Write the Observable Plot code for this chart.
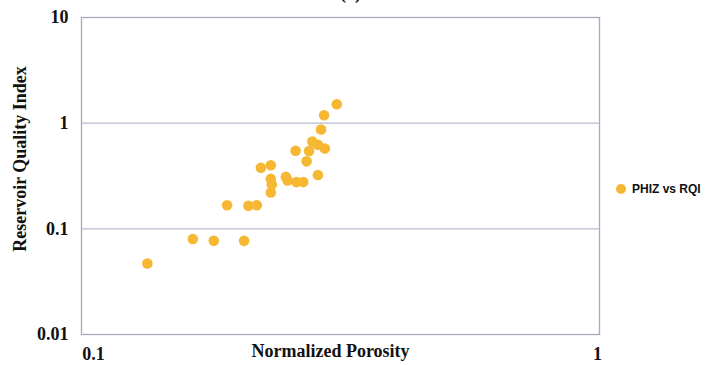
<!DOCTYPE html>
<html>
<head>
<meta charset="utf-8">
<script src="https://cdn.jsdelivr.net/npm/d3@7"></script>
<script src="https://cdn.jsdelivr.net/npm/@observablehq/plot@0.6"></script>
<style>
  body { margin: 0; background: #fff; }
  #wrap { position: relative; width: 705px; height: 365px; }
  #legend { position: absolute; left: 616px; top: 182px; font: bold 12px "Liberation Sans", Arial, sans-serif; color: #111; display: flex; align-items: center; }
  #legend .dot { width: 10px; height: 10px; border-radius: 50%; background: #F6B732; margin-right: 6px; }
</style>
</head>
<body>
<div id="wrap"><div id="legend"><span class="dot"></span><span>PHIZ vs RQI</span></div></div>
<script>
const seriesName = "PHIZ vs RQI";
const phiz = [0.134, 0.164, 0.180, 0.206, 0.191, 0.210, 0.218, 0.222, 0.232, 0.232, 0.233, 0.232,
              0.248, 0.250, 0.260, 0.268, 0.259, 0.272, 0.275, 0.279, 0.286, 0.286, 0.295, 0.290, 0.294, 0.311];
const rqi  = [0.047, 0.080, 0.077, 0.077, 0.167, 0.165, 0.167, 0.378, 0.400, 0.297, 0.263, 0.221,
              0.310, 0.287, 0.277, 0.277, 0.548, 0.435, 0.545, 0.670, 0.323, 0.625, 0.575, 0.870, 1.19, 1.51];
const xTicks = [0.1, 1];
const yTicks = [0.01, 0.1, 1, 10];
const gridY = [0.1, 1];
const xLabel = "Normalized Porosity";
const yLabel = "Reservoir Quality Index";
const title = "(a)";

const data = phiz.map((x, i) => ({x, y: rqi[i], s: seriesName}));
const serif = '"Liberation Serif", "Times New Roman", serif';
const fmt = d => String(d);

const chart = Plot.plot({
  width: 705, height: 365,
  marginLeft: 81, marginRight: 106, marginTop: 17, marginBottom: 31,
  style: {fontFamily: serif, fontWeight: "bold", fontSize: "18px", color: "#111", background: "white"},
  x: {type: "log", domain: [0.1, 1], ticks: xTicks, tickFormat: fmt, label: null},
  y: {type: "log", domain: [0.01, 10], ticks: yTicks, tickFormat: fmt, label: null},
  marks: [
    Plot.ruleY(gridY, {stroke: "#b8b8d2", strokeWidth: 1.3}),
    Plot.frame({stroke: "#a9a9c0", strokeWidth: 1.3}),
    Plot.axisY({ticks: yTicks, tickSize: 0, tickPadding: 13, tickFormat: fmt, label: null, fontSize: 18, fontWeight: "bold"}),
    Plot.axisX({ticks: [xTicks[0]], tickSize: 0, tickPadding: 13, dx: 12, tickFormat: fmt, label: null, fontSize: 18, fontWeight: "bold"}),
    Plot.axisX({ticks: [xTicks[1]], tickSize: 0, tickPadding: 13, dx: -2, tickFormat: fmt, label: null, fontSize: 18, fontWeight: "bold"}),
    Plot.dot(data, {x: "x", y: "y", r: 5.3, fill: "#F6B732", stroke: null}),
    Plot.text([xLabel], {frameAnchor: "bottom", dx: -10, dy: 22, fontSize: 18, fontWeight: "bold", lineAnchor: "bottom"}),
    Plot.text([yLabel], {frameAnchor: "left", textAnchor: "middle", rotate: -90, dx: -61, dy: -17, fontSize: 18, fontWeight: "bold"}),
    Plot.text([title], {frameAnchor: "top", dx: 10, dy: -31, fontSize: 18, fontWeight: "bold"})
  ]
});
document.getElementById("wrap").prepend(chart);
</script>
</body>
</html>
